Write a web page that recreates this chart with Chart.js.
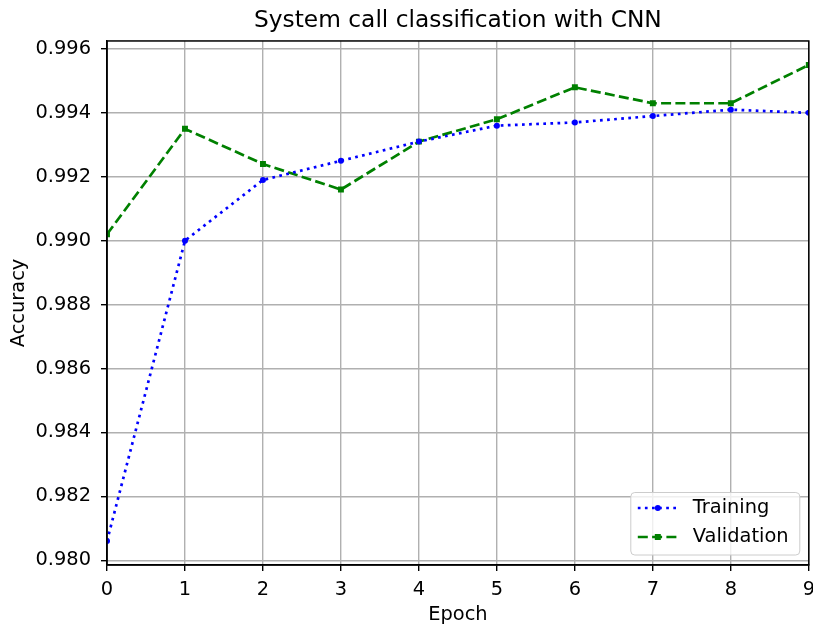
<!DOCTYPE html>
<html>
<head>
<meta charset="utf-8">
<title>System call classification with CNN</title>
<script src="https://cdn.jsdelivr.net/npm/chart.js@4"></script>
<style>
  html, body { margin: 0; padding: 0; background: #fff; }
</style>
</head>
<body>
<canvas id="myChart" width="813" height="624"></canvas>
<script>
'use strict';

// data
var epochs = [0, 1, 2, 3, 4, 5, 6, 7, 8, 9];
var training = [0.9806, 0.9900, 0.9919, 0.9925, 0.9931, 0.9936, 0.9937, 0.9939, 0.9941, 0.9940];
var validation = [0.9902, 0.9935, 0.9924, 0.9916, 0.9931, 0.9938, 0.9948, 0.9943, 0.9943, 0.9955];
var yTicks = [0.980, 0.982, 0.984, 0.986, 0.988, 0.990, 0.992, 0.994, 0.996];

var FONT = 'DejaVu Sans';
var LABEL_SIZE = 19.4;
Chart.defaults.font.family = FONT;
Chart.defaults.color = '#000';

function points(values) {
  return epochs.map(function (e, i) { return { x: e, y: values[i] }; });
}

// black box round the plot, like matplotlib spines
var frame = {
  id: 'frame',
  afterDatasetsDraw: function (chart) {
    var a = chart.chartArea, c = chart.ctx;
    c.save();
    c.strokeStyle = '#000';
    c.lineWidth = 1.5;
    c.strokeRect(a.left, a.top, a.right - a.left, a.bottom - a.top);
    c.restore();
  }
};

// legend box in the lower right corner
var cornerLegend = {
  id: 'cornerLegend',
  afterDraw: function (chart) {
    var a = chart.chartArea, c = chart.ctx;
    var w = 169, h = 62.5;
    var x0 = a.right - 9 - w, y0 = a.bottom - 10 - h;
    c.save();
    c.beginPath();
    c.roundRect(x0, y0, w, h, 4);
    c.fillStyle = 'rgba(255,255,255,0.8)';
    c.fill();
    c.strokeStyle = '#cccccc';
    c.lineWidth = 1;
    c.stroke();
    chart.data.datasets.forEach(function (ds, i) {
      var y = y0 + 15.5 + i * 29;
      c.beginPath();
      c.setLineDash(ds.borderDash);
      c.strokeStyle = ds.borderColor;
      c.lineWidth = ds.borderWidth;
      c.moveTo(x0 + 7, y);
      c.lineTo(x0 + 47, y);
      c.stroke();
      c.setLineDash([]);
      c.fillStyle = ds.backgroundColor;
      if (ds.pointStyle === 'rect') {
        c.fillRect(x0 + 27 - 3, y - 3, 6, 6);
      } else {
        c.beginPath();
        c.arc(x0 + 27, y, ds.pointRadius, 0, Math.PI * 2);
        c.fill();
      }
      c.fillStyle = '#000';
      c.font = LABEL_SIZE + 'px "' + FONT + '"';
      c.textBaseline = 'middle';
      c.textAlign = 'left';
      c.fillText(ds.label, x0 + 62, y);
    });
    c.restore();
  }
};

var ctx = document.getElementById('myChart').getContext('2d');
var chart = new Chart(ctx, {
  type: 'line',
  data: {
    datasets: [{
      label: 'Training',
      data: points(training),
      borderColor: '#0000ff',
      backgroundColor: '#0000ff',
      borderWidth: 2.7,
      borderDash: [2.7, 4.4],
      pointStyle: 'circle',
      pointRadius: 3,
      pointBorderWidth: 0,
      tension: 0,
      clip: 0
    }, {
      label: 'Validation',
      data: points(validation),
      borderColor: '#008000',
      backgroundColor: '#008000',
      borderWidth: 2.7,
      borderDash: [10, 4.3],
      pointStyle: 'rect',
      pointRadius: 4.2,
      pointBorderWidth: 0,
      tension: 0,
      clip: 0
    }]
  },
  options: {
    responsive: false,
    animation: false,
    layout: { padding: { left: 0, right: 4, top: 0, bottom: 0 } },
    plugins: {
      legend: { display: false },
      tooltip: { enabled: false },
      title: {
        display: true,
        fullSize: false,
        text: 'System call classification with CNN',
        color: '#000',
        font: { size: 23.3, weight: 'normal' },
        padding: { top: 6.5, bottom: 6.5 }
      }
    },
    scales: {
      x: {
        type: 'linear',
        min: 0,
        max: 9,
        ticks: { stepSize: 1, font: { size: LABEL_SIZE }, padding: 7, color: '#000' },
        grid: { color: '#b0b0b0', lineWidth: 1.4, tickColor: '#000', tickLength: 6, tickWidth: 1.4 },
        border: { color: '#000', width: 1.5 },
        title: { display: true, text: 'Epoch', font: { size: LABEL_SIZE }, padding: { top: 0, bottom: -2.5 } },
        afterFit: function (s) { s.height = 59; s.paddingLeft = 0; s.paddingRight = 0; }
      },
      y: {
        min: 0.97985,
        max: 0.99625,
        afterBuildTicks: function (s) { s.ticks = yTicks.map(function (v) { return { value: v }; }); },
        ticks: {
          font: { size: LABEL_SIZE },
          padding: 10,
          color: '#000',
          callback: function (v) { return v.toFixed(3); }
        },
        grid: { color: '#b0b0b0', lineWidth: 1.4, tickColor: '#000', tickLength: 6, tickWidth: 1.4 },
        border: { color: '#000', width: 1.5 },
        title: { display: true, text: 'Accuracy', font: { size: LABEL_SIZE }, padding: { top: 7, bottom: 0 } },
        afterFit: function (s) { s.width = 107; s.paddingTop = 0; s.paddingBottom = 0; }
      }
    }
  },
  plugins: [frame, cornerLegend]
});
</script>
</body>
</html>
